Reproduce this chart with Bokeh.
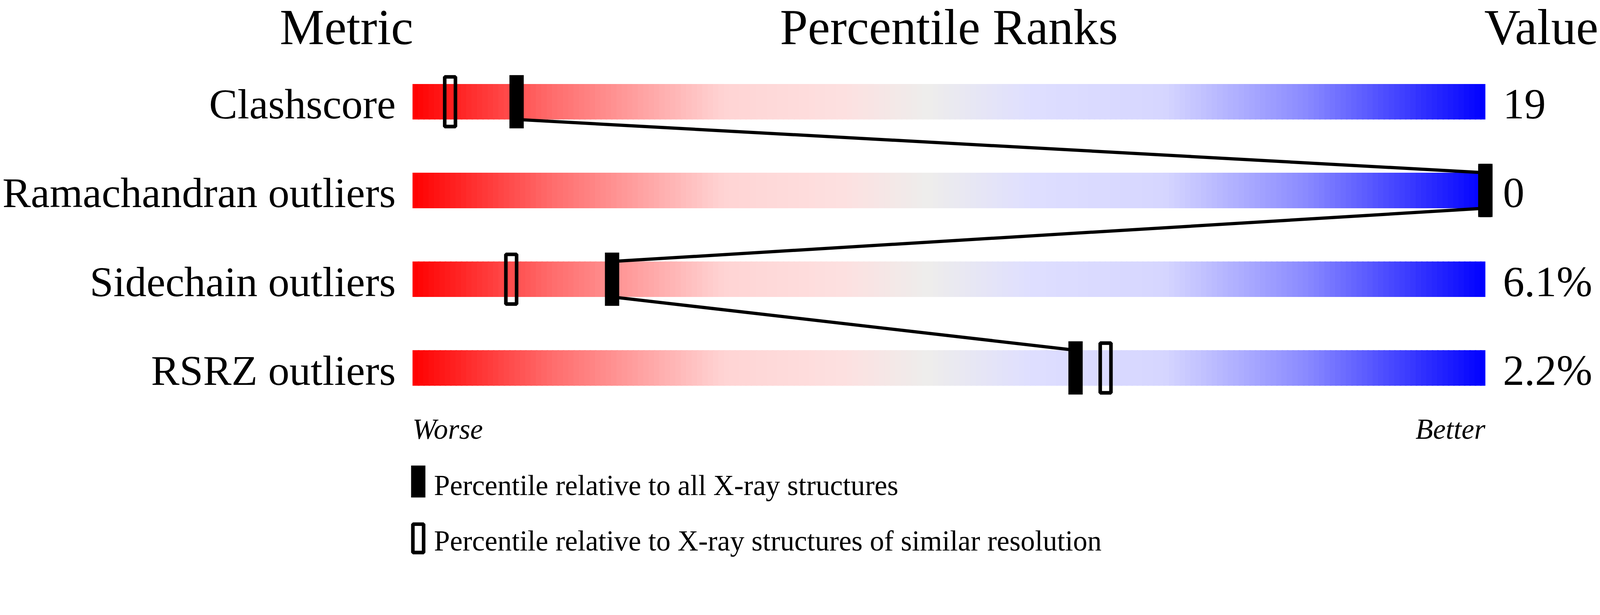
import numpy as np
from bokeh.plotting import figure
from bokeh.models import Range1d
from bokeh.core.properties import value
from bokeh.embed import file_html
from bokeh.resources import INLINE

# ---------------- data ----------------
metrics = ["Clashscore", "Ramachandran outliers", "Sidechain outliers", "RSRZ outliers"]
metric_values = ["19", "0", "6.1%", "2.2%"]
pct_all_xray = [9.7, 100.0, 18.6, 61.8]        # filled markers
pct_similar_res = [3.5, 100.0, 9.2, 64.6]      # hollow markers
header_labels = ["Metric", "Percentile Ranks", "Value"]
scale_labels = ["Worse", "Better"]
legend_labels = ["Percentile relative to all X-ray structures",
                 "Percentile relative to X-ray structures of similar resolution"]

# ---------------- layout (reference pixel units) ----------------
REF_W, REF_H = 4485, 1574
K = 1.088                               # device pixels per CSS pixel seen in the photo
VIEW_W, VIEW_H = REF_W / K, REF_H / K
W, H = int(VIEW_W - 16), int(VIEW_H - 16)
S = (W * K) / REF_W                     # slight compression so edge texts fit

BAR_X0 = 1153                           # pixel position of percentile 0
PX_PER_PCT = 30.0                       # pixels per percentile


def px(X):
    """reference pixel x -> percentile coordinate"""
    return (X - BAR_X0) / PX_PER_PCT


ROW_Y0, ROW_STEP = 286, 250
BAR_H, MARK_H, MARK_W = 100, 150, 40
FONT = value("Liberation Serif")
BASE_FIX = 0.36                         # baseline correction, fraction of font size


def fs(size):
    return f"{size * S / K:.1f}px"


def lw(w):
    return w * S / K


# gradient stops (percentile, rgb)
stops_pct = [0, 13, 29, 40, 48, 58, 70, 83, 100]
stops_rgb = [(255, 0, 0), (255, 108, 108), (255, 212, 212), (253, 224, 224),
             (238, 237, 236), (222, 222, 255), (214, 214, 255), (140, 140, 255),
             (0, 0, 255)]

p = figure(width=W, height=H,
           x_range=Range1d(px(0), px(REF_W)), y_range=Range1d(REF_H, 0),
           output_backend="svg", toolbar_location=None,
           x_axis_location=None, y_axis_location=None,
           min_border=0, min_border_left=0, min_border_right=0,
           min_border_top=0, min_border_bottom=0)
p.grid.visible = False
p.outline_line_color = None
p.background_fill_color = "white"
p.border_fill_color = "white"

row_y = [ROW_Y0 + ROW_STEP * i for i in range(len(metrics))]

# ---- gradient bars ----
NSEG = 200
edges = np.linspace(0, 100, NSEG + 1)
mids = 0.5 * (edges[:-1] + edges[1:])
cols = []
for m in mids:
    r = np.interp(m, stops_pct, [c[0] for c in stops_rgb])
    g = np.interp(m, stops_pct, [c[1] for c in stops_rgb])
    b = np.interp(m, stops_pct, [c[2] for c in stops_rgb])
    cols.append("#%02x%02x%02x" % (int(round(r)), int(round(g)), int(round(b))))

L, R, T, B, C = [], [], [], [], []
for yc in row_y:
    for k in range(NSEG):
        L.append(edges[k])
        R.append(min(edges[k + 1] + 0.15, 100.0))
        T.append(yc - BAR_H / 2)
        B.append(yc + BAR_H / 2)
        C.append(cols[k])
p.quad(left=L, right=R, top=T, bottom=B, fill_color=C, line_color=None)

# ---- connecting lines between filled markers ----
p.segment(x0=pct_all_xray[:-1], y0=[y + BAR_H / 2 for y in row_y[:-1]],
          x1=pct_all_xray[1:], y1=[y - BAR_H / 2 for y in row_y[1:]],
          line_color="black", line_width=lw(9))

# ---- hollow markers (similar resolution) ----
p.rect(x=pct_similar_res, y=row_y, width=(MARK_W - 10) / PX_PER_PCT, height=MARK_H - 10,
       fill_alpha=0, line_color="black", line_width=lw(10))
# ---- filled markers (all X-ray) ----
p.rect(x=pct_all_xray, y=row_y, width=MARK_W / PX_PER_PCT, height=MARK_H,
       fill_color="black", line_color=None)


def label(xs, ys, texts, size, align, style="normal"):
    p.text(x=xs, y=[y - BASE_FIX * size for y in ys], text=texts, text_font=FONT,
           text_font_size=fs(size), text_font_style=style, text_align=align,
           text_baseline="alphabetic", text_color="black")


# ---- texts ----
HEAD_Y = 127
label([px(1155)], [HEAD_Y], [header_labels[0]], 140, "right")
label([50], [HEAD_Y], [header_labels[1]], 140, "center")
label([px(4150)], [HEAD_Y], [header_labels[2]], 140, "left")

base_y = [y + BAR_H / 2 for y in row_y]
label([px(1106)] * len(metrics), base_y, metrics, 119, "right")
label([px(4202)] * len(metrics), base_y, metric_values, 120, "left")

label([0], [1237], [scale_labels[0]], 80, "left", "italic")
label([100], [1237], [scale_labels[1]], 80, "right", "italic")

# ---- legend ----
LEG_X = px(1169)
p.rect(x=[LEG_X], y=[1356], width=MARK_W / PX_PER_PCT, height=90,
       fill_color="black", line_color=None)
p.rect(x=[LEG_X], y=[1516], width=(MARK_W - 10) / PX_PER_PCT, height=80,
       fill_color="white", line_color="black", line_width=lw(10))
label([px(1213)] * 2, [1396, 1552], legend_labels, 80, "left")

open("out.html", "w").write(file_html(p, INLINE))
